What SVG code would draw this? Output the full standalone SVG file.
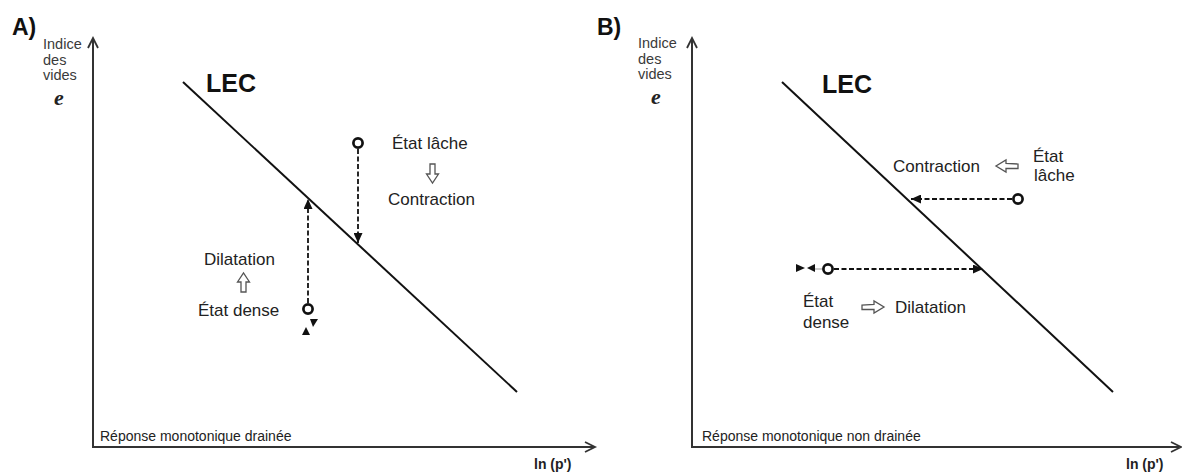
<svg xmlns="http://www.w3.org/2000/svg" width="1182" height="472" viewBox="0 0 1182 472">
<style>
text{font-family:"Liberation Sans",Arial,sans-serif;fill:#222}
.panel{font-size:23px;font-weight:bold;fill:#111}
.ylab{font-size:14.5px;fill:#3a3a3a}
.evar{font-family:"Liberation Serif","Times New Roman",serif;font-size:22px;font-weight:bold;font-style:italic;fill:#222}
.lec{font-size:25px;font-weight:bold;fill:#111}
.lbl{font-size:17px}
.resp{font-size:14px}
.xlab{font-size:14px;font-weight:bold}
.axis{stroke:#333;stroke-width:2;fill:none}
.head{stroke:#333;stroke-width:1.8;fill:none;stroke-linejoin:miter}
.lecline{stroke:#111;stroke-width:2;fill:none}
.dash{stroke:#111;stroke-width:1.8;stroke-dasharray:5,2.5;fill:none}
.state{fill:#fff;stroke:#111;stroke-width:2.7}
.blk{fill:#fff;stroke:#555;stroke-width:1.3;stroke-linejoin:miter}
.tri{fill:#111}
</style>
<defs>
<marker id="ah" markerUnits="userSpaceOnUse" markerWidth="11" markerHeight="9" refX="10" refY="4.5" orient="auto">
<path d="M0,0 L10,4.5 L0,9 z" fill="#111"/>
</marker>
</defs>
<rect width="1182" height="472" fill="#fff"/>

<!-- Panel A -->
<g id="panelA-label"><text class="panel" x="12" y="35">A)</text></g>
<g id="axisA">
<line class="axis" x1="93" y1="447" x2="93" y2="39"/>
<polyline class="head" points="88,48 93,38 98,48"/>
<line class="axis" x1="92" y1="447" x2="594" y2="447"/>
<polyline class="head" points="585,442 595,447 585,452"/>
<text class="ylab" x="43" y="49">Indice</text>
<text class="ylab" x="43" y="65">des</text>
<text class="ylab" x="43" y="80">vides</text>
<text class="evar" x="54" y="105">e</text>
<text class="xlab" x="534" y="469">ln (p')</text>
<text class="resp" x="100" y="441">Réponse monotonique drainée</text>
</g>
<g id="lecA">
<line class="lecline" x1="183" y1="82" x2="517" y2="392"/>
<text class="lec" x="206" y="92">LEC</text>
</g>
<g id="looseA">
<circle class="state" cx="358" cy="143" r="4.6"/>
<text class="lbl" x="392" y="149">État lâche</text>
<path class="blk" d="M430,164 h5 v10 h3.5 l-6,9 l-6,-9 h3.5 z"/>
<text class="lbl" x="388" y="205">Contraction</text>
</g>
<g id="denseA">
<circle class="state" cx="308" cy="309" r="4.6"/>
<text class="lbl" x="204" y="265">Dilatation</text>
<path class="blk" d="M241,292 h5 v-10 h3.5 l-6,-9 l-6,9 h3.5 z"/>
<text class="lbl" x="198" y="316">État dense</text>
</g>

<!-- Panel B -->
<g id="panelB-label"><text class="panel" x="597" y="35">B)</text></g>
<g id="axisB">
<line class="axis" x1="692" y1="447" x2="692" y2="39"/>
<polyline class="head" points="687,48 692,38 697,48"/>
<line class="axis" x1="691" y1="447" x2="1179" y2="447"/>
<polyline class="head" points="1171,442 1181,447 1171,452"/>
<text class="ylab" x="638" y="48">Indice</text>
<text class="ylab" x="638" y="64">des</text>
<text class="ylab" x="638" y="79">vides</text>
<text class="evar" x="651" y="104">e</text>
<text class="xlab" x="1126" y="469">ln (p')</text>
<text class="resp" x="702" y="441">Réponse monotonique non drainée</text>
</g>
<g id="lecB">
<line class="lecline" x1="782" y1="82" x2="1113" y2="392"/>
<text class="lec" x="822" y="93">LEC</text>
</g>
<g id="looseB">
<circle class="state" cx="1018" cy="199" r="4.6"/>
<text class="lbl" x="1033" y="162">État</text>
<text class="lbl" x="1034" y="181">lâche</text>
<path class="blk" d="M1018,164 v4.5 h-12 v3.5 l-10,-6 l10,-6 v3.5 z"/>
<text class="lbl" x="893" y="172">Contraction</text>
</g>
<g id="denseB">
<circle class="state" cx="828" cy="269" r="4.6"/>
<text class="lbl" x="803" y="307">État</text>
<text class="lbl" x="803" y="328">dense</text>
<path class="blk" d="M862,305 v4.5 h12 v3.5 l10,-6 l-10,-6 v3.5 z"/>
<text class="lbl" x="895" y="313">Dilatation</text>
</g>

<!-- Connectors -->
<g id="connectors">
<line class="dash" x1="358" y1="149" x2="358" y2="243" marker-end="url(#ah)"/>
<line class="dash" x1="308" y1="303" x2="308" y2="199" marker-end="url(#ah)"/>
<polygon class="tri" points="310,319 318,319 313,327"/>
<polygon class="tri" points="306,327 302,335 310,335"/>
<line class="dash" x1="1012" y1="199" x2="911" y2="199" marker-end="url(#ah)"/>
<line class="dash" x1="834" y1="269" x2="983" y2="269" marker-end="url(#ah)"/>
<line x1="815" y1="269" x2="822" y2="269" stroke="#bbb" stroke-width="1.5"/>
<polygon class="tri" points="796,264 805,268 796,272"/>
<polygon class="tri" points="815,264 807,268 815,272"/>
</g>
</svg>
